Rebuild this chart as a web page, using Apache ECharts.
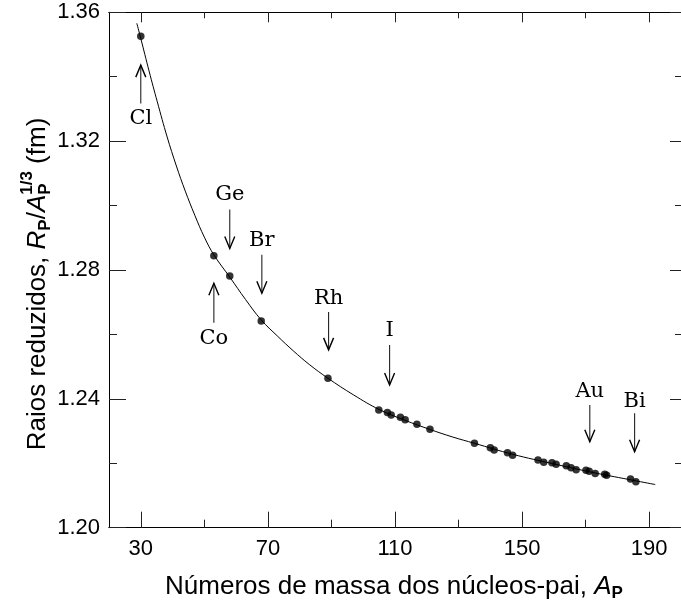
<!DOCTYPE html>
<html><head><meta charset="utf-8">
<script src="https://cdn.jsdelivr.net/npm/echarts@6/dist/echarts.min.js"></script>
<style>html,body{margin:0;padding:0;background:#fff}#c{width:681px;height:608px}</style>
</head><body><div id="c"></div>
<script>
// ---- data ----
const massNumbers = [30, 53.0, 58.0, 67.9, 88.9, 104.9, 107.6, 108.8, 111.7, 113.2, 116.9, 121.0,
  135.0, 140.0, 141.2, 145.4, 147.0, 155.0, 156.8, 159.4, 160.7, 163.9, 165.4, 167.0,
  170.1, 171.1, 173.0, 176.0, 176.6, 184.1, 185.8];
const reducedRadii = [1.3526, 1.2844, 1.2781, 1.2642, 1.2464, 1.2365, 1.2358, 1.2350, 1.2343, 1.2335, 1.2321, 1.2306,
  1.2262, 1.2248, 1.2241, 1.2233, 1.2225, 1.2210, 1.2203, 1.2202, 1.2197, 1.2192, 1.2186, 1.2180,
  1.2178, 1.2175, 1.2168, 1.2166, 1.2163, 1.2151, 1.2143];
const curveA = [28.75, 30, 32.6, 35.2, 38.3, 41.2, 44, 47, 50, 53, 58, 63, 67.9, 73, 78, 83, 88.9,
  97, 105, 113, 121, 128, 135, 147, 160, 173, 185, 191.9];
const curveR = [1.3566, 1.3519, 1.3418, 1.3322, 1.3213, 1.3123, 1.3045, 1.2970, 1.2902, 1.2847, 1.2778, 1.2708, 1.2645,
  1.2595, 1.2549, 1.2507, 1.2464, 1.2412, 1.2367, 1.2334, 1.2305, 1.2282, 1.2262, 1.2228, 1.2198, 1.2170, 1.2147, 1.2134];
const xMajorTicks = [30, 70, 110, 150, 190];
const xMinorTicks = [50, 90, 130, 170];
const arrowElements = ['Cl', 'Co', 'Ge', 'Br', 'Rh', 'I', 'Au', 'Bi'];
const arrowA = [30, 53.0, 58.0, 68.1, 89.1, 108.3, 171.3, 185.4];
const arrowTailR = [1.3317, 1.2636, 1.2988, 1.2847, 1.2670, 1.2567, 1.2381, 1.2355];
const arrowTipR = [1.3436, 1.2759, 1.2867, 1.2728, 1.2552, 1.2443, 1.2267, 1.2236];
const arrowLabelR = [1.3271, 1.2588, 1.3033, 1.2891, 1.2712, 1.2611, 1.2422, 1.2391];

// ---- chart ----
const chart = echarts.init(document.getElementById('c'));
const SANS = 'Liberation Sans';
const SERIF = 'DejaVu Serif';

const cv = document.createElement('canvas').getContext('2d');
function tw(t, f) { cv.font = f; return cv.measureText(t).width; }

function buildTitle(segs, cx, cy, rotate) {
  let total = 0;
  const items = [];
  segs.forEach(s => {
    if (s.stack) {
      const f = `normal ${s.weight} ${s.size}px "${SANS}"`;
      const w = Math.max(tw(s.sup, f), tw(s.sub, f));
      items.push({ x: total, t: s.sup, dy: s.dySup, size: s.size, weight: s.weight, style: 'normal' });
      items.push({ x: total, t: s.sub, dy: s.dySub, size: s.size, weight: s.weight, style: 'normal' });
      total += w;
    } else {
      const st = s.style || 'normal', wt = s.weight || 'normal';
      const f = `${st} ${wt} ${s.size}px "${SANS}"`;
      items.push({ x: total, t: s.t, dy: s.dy || 0, size: s.size, weight: wt, style: st });
      total += tw(s.t, f);
    }
  });
  return {
    type: 'group', x: cx, y: cy, rotation: rotate ? Math.PI / 2 : 0,
    children: items.map(it => ({
      type: 'text', x: it.x - total / 2, y: it.dy,
      style: { text: it.t, fontFamily: SANS, fontSize: it.size, fontWeight: it.weight, fontStyle: it.style,
        fill: '#000', align: 'left', verticalAlign: 'middle' }
    }))
  };
}

const yTitle = buildTitle([
  { t: 'Raios reduzidos, ', size: 26 },
  { t: 'R', size: 26, style: 'italic' },
  { t: 'P', size: 17, weight: 'bold', dy: 7 },
  { t: '/', size: 26 },
  { t: 'A', size: 26, style: 'italic' },
  { stack: true, sup: '1/3', sub: 'P', size: 17, weight: 'bold', dySup: -11, dySub: 7 },
  { t: ' (fm)', size: 26 }
], 38, 284, true);

const xTitle = buildTitle([
  { t: 'Números de massa dos núcleos-pai, ', size: 26 },
  { t: 'A', size: 26, style: 'italic' },
  { t: 'P', size: 17, weight: 'bold', dy: 6 }
], 394, 587, false);

const axisBase = {
  type: 'value', min: 20, max: 200,
  axisLine: { show: true, lineStyle: { color: '#000', width: 1 } },
  splitLine: { show: false }
};

const option = {
  animation: false,
  backgroundColor: '#fff',
  grid: { left: 109, top: 12.3, width: 578.25, height: 515.4, containLabel: false },
  xAxis: [
    Object.assign({}, axisBase, {
      position: 'bottom',
      axisTick: { show: true, inside: true, length: 16, customValues: xMajorTicks, lineStyle: { color: '#222' } },
      axisLabel: { show: true, customValues: xMajorTicks, margin: 10, fontFamily: SANS, fontSize: 22, color: '#000' }
    }),
    Object.assign({}, axisBase, {
      position: 'bottom',
      axisTick: { show: true, inside: true, length: 8, customValues: xMinorTicks, lineStyle: { color: '#222' } },
      axisLabel: { show: false }
    }),
    Object.assign({}, axisBase, {
      position: 'top',
      axisTick: { show: true, inside: true, length: 10, customValues: xMajorTicks, lineStyle: { color: '#222' } },
      axisLabel: { show: false }
    }),
    Object.assign({}, axisBase, {
      position: 'top',
      axisTick: { show: true, inside: true, length: 6, customValues: xMinorTicks, lineStyle: { color: '#222' } },
      axisLabel: { show: false }
    })
  ],
  yAxis: [
    {
      type: 'value', min: 1.20, max: 1.36, interval: 0.04, position: 'left',
      axisLine: { show: true, lineStyle: { color: '#000', width: 1 } },
      axisTick: { show: true, inside: true, length: 17, lineStyle: { color: '#222' } },
      minorTick: { show: true, splitNumber: 2, length: 8, lineStyle: { color: '#222' } },
      axisLabel: { show: true, margin: 9, fontFamily: SANS, fontSize: 22, color: '#000',
        formatter: v => v.toFixed(2) },
      splitLine: { show: false }
    },
    {
      type: 'value', min: 1.20, max: 1.36, interval: 0.04, position: 'right',
      axisLine: { show: true, lineStyle: { color: '#000', width: 1 } },
      axisTick: { show: true, inside: true, length: 11, lineStyle: { color: '#222' } },
      minorTick: { show: true, splitNumber: 2, length: 6, lineStyle: { color: '#222' } },
      axisLabel: { show: false },
      splitLine: { show: false }
    }
  ],
  graphic: [yTitle, xTitle],
  series: [
    {
      type: 'line', xAxisIndex: 0, yAxisIndex: 0,
      data: curveA.map((a, i) => [a, curveR[i]]),
      smooth: 0.4, showSymbol: false, silent: true, z: 2,
      lineStyle: { color: '#000', width: 1 }
    },
    {
      type: 'scatter', xAxisIndex: 0, yAxisIndex: 0,
      data: massNumbers.map((a, i) => [a, reducedRadii[i]]),
      symbol: 'circle', symbolSize: 7.5, z: 3,
      itemStyle: { color: '#000' }
    },
    {
      type: 'custom', xAxisIndex: 0, yAxisIndex: 0, z: 4, clip: false,
      data: arrowA.map((a, i) => [a, arrowTailR[i], arrowTipR[i], arrowLabelR[i]]),
      renderItem: (params, api) => {
        const a = api.value(0);
        const pt = api.coord([a, api.value(1)]);
        const ph = api.coord([a, api.value(2)]);
        const pl = api.coord([a, api.value(3)]);
        const dir = ph[1] > pt[1] ? 1 : -1;
        const hw = 5, hl = 12;
        return {
          type: 'group', children: [
            { type: 'line', shape: { x1: pt[0], y1: pt[1], x2: ph[0], y2: ph[1] }, style: { stroke: '#222', lineWidth: 1.1 } },
            { type: 'polyline', shape: { points: [[ph[0] - hw, ph[1] - dir * hl], [ph[0], ph[1]], [ph[0] + hw, ph[1] - dir * hl]] },
              style: { stroke: '#000', lineWidth: 1.4, fill: null } },
            { type: 'text', x: pl[0], y: pl[1], style: { text: arrowElements[params.dataIndex], fontFamily: SERIF, fontSize: 21,
              fill: '#000', align: 'center', verticalAlign: 'middle' } }
          ]
        };
      }
    }
  ]
};
chart.setOption(option);
</script>
</body></html>
